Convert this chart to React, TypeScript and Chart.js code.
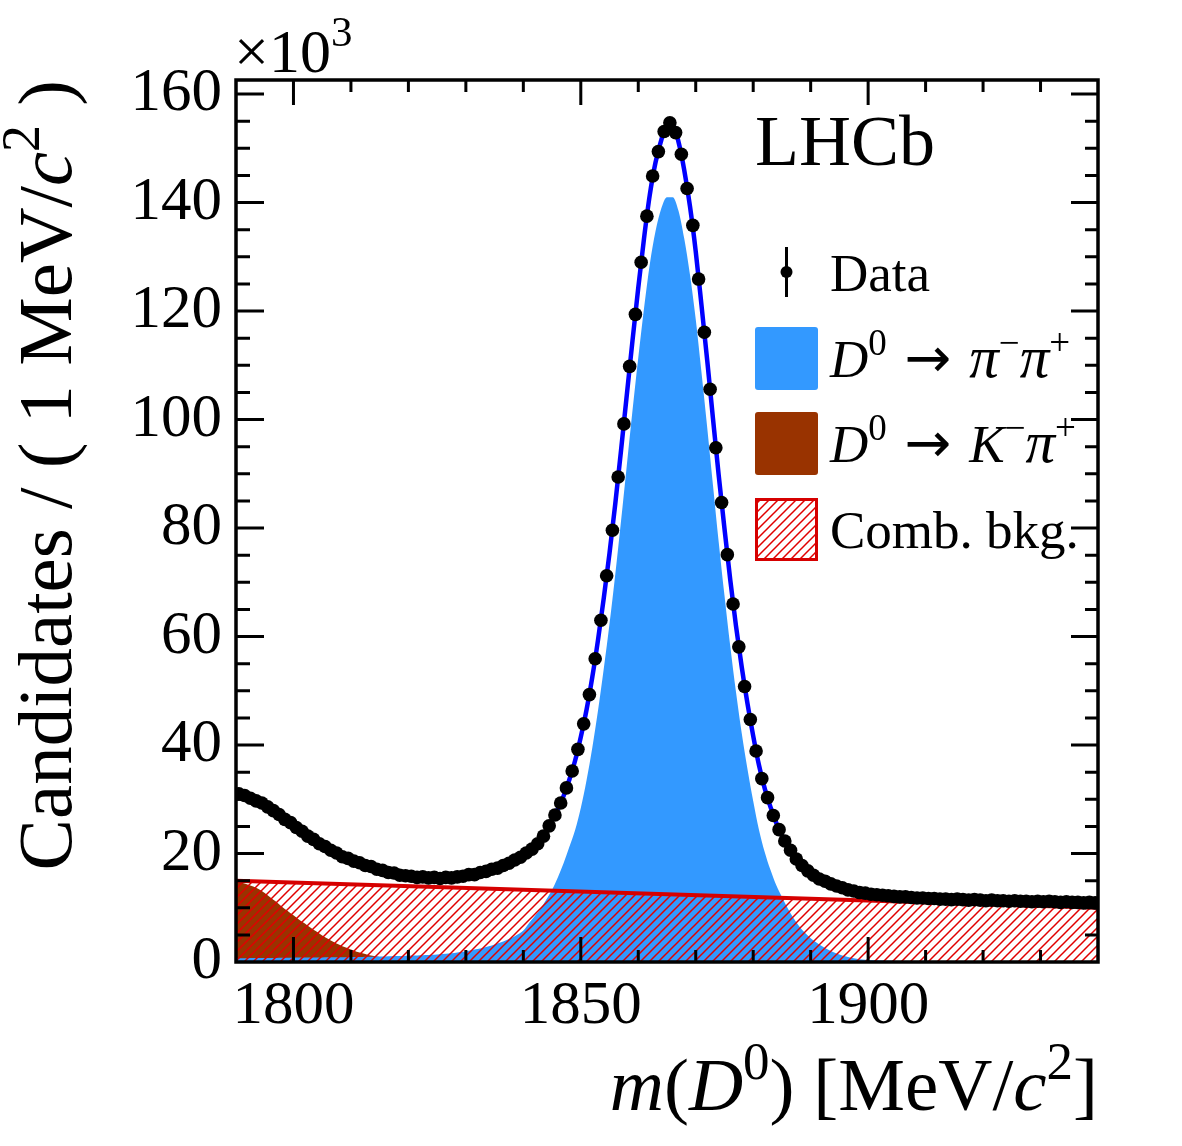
import { useEffect, useRef } from "react";
import { Chart, registerables } from "chart.js";

Chart.register(...registerables);

// Histogram binning: 1 MeV/c^2 bins starting at 1790 MeV/c^2
const BIN_LOW = 1790;
const BIN_WIDTH = 1;

// Candidates per bin, in units of 10^3
const dataCounts = [
  31.0, 30.7, 30.2, 29.7, 29.3, 28.6, 27.9, 27.2, 26.3, 25.7,
  24.8, 24.1, 23.2, 22.6, 21.8, 21.3, 20.6, 20.1, 19.4, 19.1,
  18.6, 18.3, 17.8, 17.6, 17.1, 16.9, 16.5, 16.4, 16.0, 15.9,
  15.8, 15.6, 15.7, 15.5, 15.6, 15.4, 15.6, 15.5, 15.7, 15.8,
  16.1, 16.1, 16.5, 16.7, 17.1, 17.3, 17.8, 18.2, 18.8, 19.3,
  20.1, 20.8, 21.8, 23.2, 25.1, 27.1, 29.3, 32.1, 35.2, 39.2,
  43.9, 49.3, 55.9, 63.0, 71.2, 79.6, 89.4, 99.2, 109.8, 119.4,
  129.0, 137.5, 144.9, 149.4, 153.1, 154.7, 152.9, 148.9, 142.6, 135.8,
  125.9, 116.1, 105.6, 94.8, 84.7, 75.1, 66.0, 58.1, 50.8, 44.7,
  38.9, 33.8, 30.3, 27.0, 24.4, 22.3, 20.6, 19.0, 17.8, 16.8,
  16.0, 15.3, 14.9, 14.4, 14.0, 13.7, 13.3, 13.1, 12.8, 12.7,
  12.5, 12.4, 12.3, 12.2, 12.1, 12.0, 12.0, 11.9, 11.8, 11.8,
  11.7, 11.7, 11.6, 11.6, 11.5, 11.6, 11.5, 11.4, 11.5, 11.4,
  11.3, 11.4, 11.3, 11.3, 11.2, 11.3, 11.2, 11.2, 11.1, 11.2,
  11.1, 11.2, 11.1, 11.0, 11.1, 11.0, 11.0, 10.9, 11.0, 10.9,
];

// Model curves, sampled every 1 MeV/c^2 starting at CURVE_START (units of 10^3)
const CURVE_START = 1790;

const fitTotal = [
  31.2, 30.85, 30.45, 29.95, 29.45, 28.9, 28.25, 27.55, 26.8, 26.0,
  25.25, 24.45, 23.7, 22.95, 22.25, 21.6, 20.95, 20.35, 19.8, 19.3,
  18.85, 18.45, 18.05, 17.7, 17.35, 17.0, 16.7, 16.45, 16.2, 16.0,
  15.85, 15.72, 15.62, 15.56, 15.53, 15.52, 15.53, 15.57, 15.64, 15.74,
  15.9, 16.1, 16.3, 16.58, 16.88, 17.2, 17.55, 17.98, 18.48, 19.05,
  19.7, 20.45, 21.3, 22.45, 24.1, 26.1, 28.2, 30.6, 33.6, 37.1,
  41.5, 46.5, 52.5, 59.4, 67.1, 75.4, 84.5, 94.3, 104.5, 114.6,
  124.3, 133.4, 141.4, 147.4, 151.5, 154.2, 154.2, 151.2, 146.0, 139.3,
  131.0, 121.1, 110.9, 100.2, 89.7, 79.9, 70.5, 62.0, 54.4, 47.7,
  41.7, 36.3, 32.0, 28.6, 25.7, 23.3, 21.4, 19.8, 18.4, 17.3,
  16.4, 15.65, 15.1, 14.65, 14.2, 13.85, 13.5, 13.2, 12.95, 12.75,
  12.6, 12.45, 12.35, 12.25, 12.15, 12.05, 11.98, 11.92, 11.86, 11.8,
  11.75, 11.7, 11.66, 11.62, 11.58, 11.55, 11.52, 11.49, 11.46, 11.43,
  11.4, 11.37, 11.34, 11.31, 11.28, 11.26, 11.24, 11.22, 11.19, 11.17,
  11.15, 11.13, 11.1, 11.08, 11.06, 11.04, 11.02, 11.0, 10.97, 10.95,
  10.93,
];

const signalPiPi = [
  0.70, 0.70, 0.71, 0.72, 0.73, 0.74, 0.75, 0.76, 0.77, 0.78,
  0.80, 0.81, 0.82, 0.83, 0.84, 0.85, 0.86, 0.87, 0.88, 0.89,
  0.90, 0.92, 0.94, 0.96, 0.98, 1.00, 1.03, 1.06, 1.09, 1.12,
  1.15, 1.19, 1.24, 1.29, 1.34, 1.40, 1.48, 1.57, 1.68, 1.83,
  2.00, 2.18, 2.40, 2.63, 2.90, 3.22, 3.58, 4.00, 4.48, 5.05,
  5.80, 7.20, 8.50, 9.80, 11.50, 13.30, 15.60, 18.20, 21.20, 24.30,
  28.40, 33.50, 39.50, 46.40, 54.10, 62.40, 71.50, 81.30, 91.50, 101.70,
  111.40, 120.50, 128.60, 134.70, 138.90, 141.00, 141.00, 138.50, 133.40, 126.70,
  118.50, 108.70, 98.50, 87.90, 77.40, 67.60, 58.30, 49.80, 42.20, 35.60,
  29.70, 24.40, 20.30, 17.00, 14.20, 12.00, 9.90, 8.10, 6.60, 5.40,
  4.40, 3.60, 2.90, 2.30, 1.80, 1.40, 1.05, 0.80, 0.60, 0.45,
  0.35, 0.30, 0.27, 0.24, 0.22, 0.20, 0.18, 0.16, 0.15, 0.14,
  0.12, 0.11, 0.10, 0.10, 0.09, 0.09, 0.08, 0.08, 0.07, 0.07,
  0.06, 0.06, 0.06, 0.05, 0.05, 0.05, 0.05, 0.04, 0.04, 0.04,
  0.04, 0.04, 0.03, 0.03, 0.03, 0.03, 0.03, 0.03, 0.02, 0.02,
  0.02,
];

const misIdKPi = [
  14.8, 14.6, 14.3, 13.9, 13.4, 12.7, 11.9, 11.1, 10.2, 9.4,
  8.6, 7.8, 7.1, 6.3, 5.6, 4.9, 4.3, 3.7, 3.2, 2.7,
  2.3, 1.9, 1.6, 1.3, 1.1, 0.9, 0.7, 0.55, 0.42, 0.32,
  0.24, 0.18, 0.13, 0.09, 0.06, 0.04, 0.02, 0.0, 0.0, 0.0,
  0.0,
];

const combMass = [1790, 1940];
const combValues = [15.0, 10.0];

// Axis ranges and ticks
const X_MIN = 1790;
const X_MAX = 1940;
const Y_MIN = 0;
const Y_MAX = 162.6;
const xTicks = [1800, 1850, 1900];
const xMinorTicks = [1800, 1810, 1820, 1830, 1840, 1850, 1860, 1870, 1880, 1890, 1900, 1910, 1920, 1930];
const yTicks = [0, 20, 40, 60, 80, 100, 120, 140, 160];
const yMinorTicks = [
  5, 10, 15, 20, 25, 30, 35, 40, 45, 50, 55, 60, 65, 70, 75, 80,
  85, 90, 95, 100, 105, 110, 115, 120, 125, 130, 135, 140, 145, 150, 155, 160,
];

const FONT = '"Liberation Serif", "Times New Roman", serif';
const ARROW_FONT = '"DejaVu Sans", sans-serif';
const BLUE_FILL = "#3399ff";
const BROWN_FILL = "#993300";
const COMB_RED = "#d60000";
const HATCH_RED = "#e00000";
const FIT_BLUE = "#0000ff";

type Seg = { t: string; it?: boolean; sup?: boolean; family?: string; scale?: number };

function segFont(seg: Seg, size: number) {
  const s = Math.round(size * (seg.sup ? 0.7 : 1) * (seg.scale ?? 1));
  return `${seg.it ? "italic " : ""}${s}px ${seg.family ?? FONT}`;
}

function richWidth(ctx: CanvasRenderingContext2D, segs: Seg[], size: number) {
  let w = 0;
  for (const seg of segs) {
    ctx.font = segFont(seg, size);
    w += ctx.measureText(seg.t).width;
  }
  return w;
}

function drawRich(
  ctx: CanvasRenderingContext2D,
  segs: Seg[],
  x: number,
  y: number,
  size: number,
  align: "left" | "right" = "left"
) {
  let cx = align === "right" ? x - richWidth(ctx, segs, size) : x;
  ctx.textAlign = "left";
  ctx.textBaseline = "alphabetic";
  for (const seg of segs) {
    ctx.font = segFont(seg, size);
    ctx.fillText(seg.t, cx, seg.sup ? y - size * 0.42 : y);
    cx += ctx.measureText(seg.t).width;
  }
}

function makeHatch(): CanvasPattern | string {
  const tile = document.createElement("canvas");
  const s = 9;
  tile.width = s;
  tile.height = s;
  const t = tile.getContext("2d");
  if (!t) return HATCH_RED;
  t.strokeStyle = HATCH_RED;
  t.lineWidth = 1.5;
  t.beginPath();
  t.moveTo(-2, s + 2);
  t.lineTo(s + 2, -2);
  t.moveTo(-2, 2);
  t.lineTo(2, -2);
  t.moveTo(s - 2, s + 2);
  t.lineTo(s + 2, s - 2);
  t.stroke();
  const p = t.createPattern(tile, "repeat");
  return p ?? HATCH_RED;
}

const onGrid = (start: number, values: number[]) =>
  values.map((v, i) => ({ x: start + i, y: v }));

const arrowSeg: Seg = { t: " → ", family: ARROW_FONT, scale: 1.05 };
const piSeg: Seg = { t: "π", it: true, scale: 1.12 };

export default function App() {
  const canvasRef = useRef<HTMLCanvasElement | null>(null);

  useEffect(() => {
    const canvas = canvasRef.current;
    if (!canvas) return;
    const hatch = makeHatch();

    const dataPoints = dataCounts.map((v, i) => ({
      x: BIN_LOW + (i + 0.5) * BIN_WIDTH,
      y: v,
    }));

    const decorations = {
      id: "lhcbDecorations",
      afterDatasetsDraw(chart: any) {
        const { ctx, chartArea: a, scales } = chart;
        const xs = scales.x;
        const ys = scales.y;
        ctx.save();
        ctx.strokeStyle = "#000";
        ctx.lineWidth = 3;
        ctx.lineCap = "butt";
        ctx.beginPath();
        for (const v of xMinorTicks) {
          const px = xs.getPixelForValue(v);
          const len = xTicks.includes(v) ? 25 : 12;
          ctx.moveTo(px, a.bottom);
          ctx.lineTo(px, a.bottom - len);
          ctx.moveTo(px, a.top);
          ctx.lineTo(px, a.top + len);
        }
        for (const v of yMinorTicks) {
          const py = ys.getPixelForValue(v);
          const major = yTicks.includes(v);
          ctx.moveTo(a.left, py);
          ctx.lineTo(a.left + (major ? 28 : 14), py);
          ctx.moveTo(a.right, py);
          ctx.lineTo(a.right - (major ? 27 : 13), py);
        }
        ctx.stroke();
        ctx.lineWidth = 3.5;
        ctx.strokeRect(a.left, a.top, a.right - a.left, a.bottom - a.top);
        ctx.restore();
      },
      afterDraw(chart: any) {
        const { ctx, chartArea: a } = chart;
        ctx.save();
        ctx.fillStyle = "#000";

        // exponent of the y axis
        drawRich(ctx, [{ t: "×10" }, { t: "3", sup: true }], a.left - 2, 72, 62);

        // experiment label
        ctx.font = `72px ${FONT}`;
        ctx.textAlign = "left";
        ctx.textBaseline = "alphabetic";
        ctx.fillText("LHCb", 755, 165);

        // legend
        const lx = 755;
        const bw = 63;
        const lsize = 53;
        // Data entry
        ctx.strokeStyle = "#000";
        ctx.lineWidth = 3;
        ctx.beginPath();
        ctx.moveTo(lx + bw / 2, 247);
        ctx.lineTo(lx + bw / 2, 297);
        ctx.stroke();
        ctx.beginPath();
        ctx.arc(lx + bw / 2, 272, 6, 0, Math.PI * 2);
        ctx.fill();
        drawRich(ctx, [{ t: "Data" }], 830, 291, lsize);

        // signal entry
        ctx.fillStyle = BLUE_FILL;
        ctx.beginPath();
        ctx.roundRect(lx, 327, bw, bw, 3);
        ctx.fill();
        ctx.fillStyle = "#000";
        drawRich(
          ctx,
          [
            { t: "D", it: true },
            { t: "0", sup: true },
            arrowSeg,
            piSeg,
            { t: "−", sup: true },
            piSeg,
            { t: "+", sup: true },
          ],
          830,
          377,
          lsize
        );

        // misidentified background entry
        ctx.fillStyle = BROWN_FILL;
        ctx.beginPath();
        ctx.roundRect(lx, 412, bw, bw, 3);
        ctx.fill();
        ctx.fillStyle = "#000";
        drawRich(
          ctx,
          [
            { t: "D", it: true },
            { t: "0", sup: true },
            arrowSeg,
            { t: "K", it: true },
            { t: "−", sup: true },
            piSeg,
            { t: "+", sup: true },
          ],
          830,
          462,
          lsize
        );

        // combinatorial background entry
        ctx.fillStyle = hatch;
        ctx.fillRect(lx, 498, bw, bw);
        ctx.strokeStyle = COMB_RED;
        ctx.lineWidth = 3;
        ctx.strokeRect(lx + 1.5, 498 + 1.5, bw - 3, bw - 3);
        ctx.fillStyle = "#000";
        drawRich(ctx, [{ t: "Comb. bkg." }], 830, 548, lsize);

        // x axis title
        drawRich(
          ctx,
          [
            { t: "m", it: true },
            { t: "(" },
            { t: "D", it: true },
            { t: "0", sup: true },
            { t: ") [MeV/" },
            { t: "c", it: true },
            { t: "2", sup: true },
            { t: "]" },
          ],
          a.right,
          1110,
          75,
          "right"
        );

        // y axis title
        ctx.translate(71, a.top);
        ctx.rotate(-Math.PI / 2);
        drawRich(
          ctx,
          [
            { t: "Candidates / ( 1 MeV/" },
            { t: "c", it: true },
            { t: "2", sup: true },
            { t: " )" },
          ],
          0,
          0,
          77,
          "right"
        );
        ctx.restore();
      },
    };

    const chart = new Chart(canvas, {
      type: "line",
      data: {
        datasets: [
          {
            label: "Data",
            data: dataPoints,
            showLine: false,
            pointRadius: 6.8,
            pointHoverRadius: 6.8,
            pointBackgroundColor: "#000",
            pointBorderColor: "#000",
            pointBorderWidth: 0,
            borderColor: "#000",
          },
          {
            label: "Fit",
            data: onGrid(CURVE_START, fitTotal),
            borderColor: FIT_BLUE,
            borderWidth: 4.5,
            pointRadius: 0,
            cubicInterpolationMode: "monotone",
            fill: false,
          },
          {
            label: "Comb. bkg.",
            data: combMass.map((m, i) => ({ x: m, y: combValues[i] })),
            borderColor: COMB_RED,
            borderWidth: 4,
            backgroundColor: hatch as any,
            pointRadius: 0,
            fill: "origin",
          },
          {
            label: "D0 -> pi- pi+",
            data: onGrid(CURVE_START, signalPiPi),
            borderWidth: 0,
            borderColor: BLUE_FILL,
            backgroundColor: BLUE_FILL,
            pointRadius: 0,
            cubicInterpolationMode: "monotone",
            fill: "origin",
          },
          {
            label: "D0 -> K- pi+",
            data: onGrid(CURVE_START, misIdKPi),
            borderWidth: 0,
            borderColor: BROWN_FILL,
            backgroundColor: BROWN_FILL,
            pointRadius: 0,
            cubicInterpolationMode: "monotone",
            fill: "origin",
          },
        ],
      },
      options: {
        animation: false,
        responsive: false,
        devicePixelRatio: 1,
        events: [],
        layout: { padding: { top: 80, right: 84, left: 0, bottom: 0 } },
        plugins: {
          legend: { display: false },
          tooltip: { enabled: false },
          title: { display: false },
        },
        scales: {
          x: {
            type: "linear",
            position: "bottom",
            min: X_MIN,
            max: X_MAX,
            afterBuildTicks: (s: any) => {
              s.ticks = xTicks.map((v) => ({ value: v }));
            },
            afterFit: (s: any) => {
              s.height = 184;
            },
            grid: { display: false, drawTicks: false },
            border: { display: false },
            ticks: {
              color: "#000",
              font: { family: FONT, size: 61 },
              padding: 8,
              maxRotation: 0,
              autoSkip: false,
              callback: (v: any) => String(v),
            },
          },
          y: {
            type: "linear",
            position: "left",
            min: Y_MIN,
            max: Y_MAX,
            afterBuildTicks: (s: any) => {
              s.ticks = yTicks.map((v) => ({ value: v }));
            },
            afterFit: (s: any) => {
              s.width = 236;
            },
            grid: { display: false, drawTicks: false },
            border: { display: false },
            ticks: {
              color: "#000",
              font: { family: FONT, size: 61 },
              padding: 14,
              autoSkip: false,
              callback: (v: any) => String(v),
            },
          },
        },
      },
      plugins: [decorations],
    });

    return () => chart.destroy();
  }, []);

  return (
    <canvas
      ref={canvasRef}
      width={1182}
      height={1146}
      style={{ position: "absolute", left: 0, top: 0, display: "block" }}
    />
  );
}
